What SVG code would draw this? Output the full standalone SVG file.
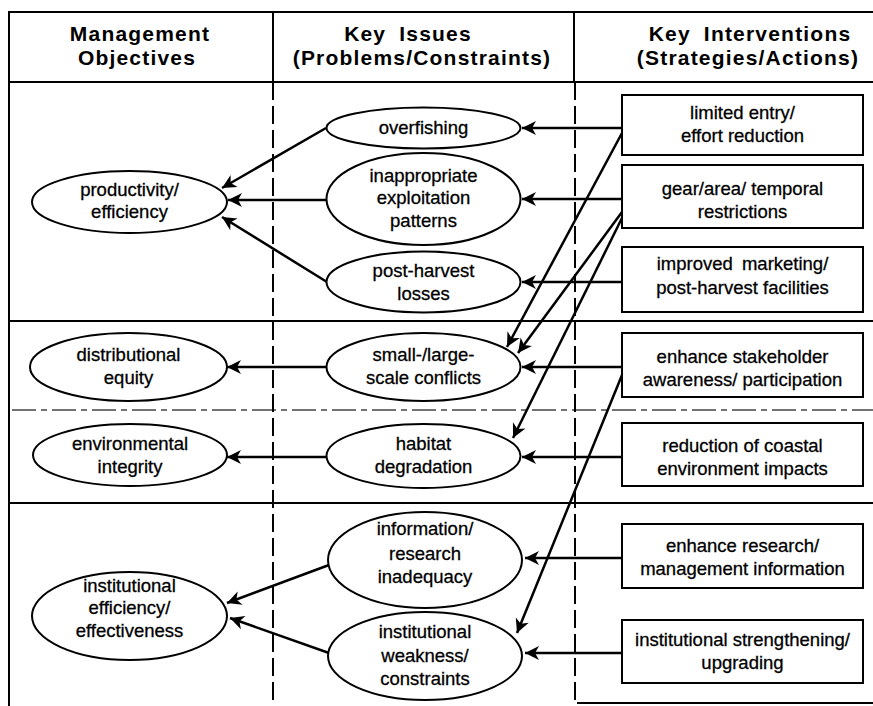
<svg xmlns="http://www.w3.org/2000/svg" width="873" height="706" viewBox="0 0 873 706">
<style>
.frame{stroke:#000;stroke-width:2;fill:none}
.div{stroke:#000;stroke-width:2;fill:none;stroke-dasharray:18 6}
.dd{stroke:#444;stroke-width:1.3;fill:none;stroke-dasharray:24 5 6 5}
.hd{font-family:"Liberation Sans",Arial,sans-serif;font-weight:bold;font-size:21px;letter-spacing:1.2px;text-anchor:middle;fill:#000}
.t{font-family:"Liberation Sans",Arial,sans-serif;font-size:18.5px;text-anchor:middle;fill:#000;stroke:#000;stroke-width:0.3}
.node ellipse,.node rect{fill:#fff;stroke:#000;stroke-width:2}
.arr{stroke:#000;stroke-width:2.5;fill:none;marker-end:url(#ah)}
</style>
<defs>
<marker id="ah" markerUnits="userSpaceOnUse" markerWidth="16" markerHeight="14" refX="14" refY="7" orient="auto" overflow="visible">
<path d="M14,7 L0,0 L4,7 L0,14 Z" fill="#000"/>
</marker>
</defs>
<rect width="873" height="706" fill="#fff"/>
<g id="grid">
<line class="frame" x1="8" y1="12" x2="873" y2="12"/>
<line class="frame" x1="9" y1="11" x2="9" y2="706"/>
<line class="frame" x1="8" y1="82" x2="873" y2="82"/>
<line class="frame" x1="8" y1="321" x2="873" y2="321"/>
<line class="frame" x1="8" y1="503" x2="873" y2="503"/>
<line class="frame" x1="577" y1="703" x2="873" y2="703"/>
<line class="dd" x1="12" y1="410" x2="873" y2="410"/>
<line class="frame" x1="273" y1="12" x2="273" y2="82"/>
<line class="frame" x1="574" y1="12" x2="574" y2="82"/>
<line class="div" x1="273" y1="82" x2="273" y2="706"/>
<line class="div" x1="575" y1="82" x2="575" y2="706"/>
</g>
<g id="headers">
<text class="hd" x="140" y="41">Management</text>
<text class="hd" x="137" y="65">Objectives</text>
<text class="hd" x="408" y="41" word-spacing="6">Key Issues</text>
<text class="hd" x="422" y="65">(Problems/Constraints)</text>
<text class="hd" x="750" y="41" word-spacing="6">Key Interventions</text>
<text class="hd" x="748" y="65">(Strategies/Actions)</text>
</g>
<g id="connectors">
<line class="arr" x1="326" y1="128" x2="222" y2="188"/>
<line class="arr" x1="326" y1="200" x2="228" y2="200"/>
<line class="arr" x1="327" y1="282" x2="222" y2="217"/>
<line class="arr" x1="622" y1="128" x2="522" y2="128"/>
<line class="arr" x1="622" y1="199" x2="522" y2="199"/>
<line class="arr" x1="622" y1="282" x2="522" y2="282"/>
<line class="arr" x1="622" y1="133" x2="507" y2="347"/>
<line class="arr" x1="622" y1="212" x2="518" y2="353"/>
<line class="arr" x1="622" y1="218" x2="513" y2="438"/>
<line class="arr" x1="622" y1="367" x2="522" y2="367"/>
<line class="arr" x1="622" y1="375" x2="517" y2="633"/>
<line class="arr" x1="327" y1="367" x2="227" y2="367"/>
<line class="arr" x1="327" y1="457" x2="227" y2="457"/>
<line class="arr" x1="622" y1="457" x2="522" y2="457"/>
<line class="arr" x1="329" y1="565" x2="227" y2="603"/>
<line class="arr" x1="329" y1="653" x2="230" y2="618"/>
<line class="arr" x1="622" y1="558" x2="525" y2="558"/>
<line class="arr" x1="622" y1="653" x2="525" y2="653"/>
</g>
<g id="productivity" class="node"><ellipse cx="129.5" cy="202" rx="97.5" ry="31"/><text class="t" x="129.5" y="196">productivity/</text><text class="t" x="129.5" y="218">efficiency</text></g>
<g id="distributional" class="node"><ellipse cx="128.5" cy="367" rx="98.5" ry="34"/><text class="t" x="128.5" y="361">distributional</text><text class="t" x="128.5" y="384">equity</text></g>
<g id="environmental" class="node"><ellipse cx="130" cy="455" rx="97" ry="31"/><text class="t" x="130" y="450">environmental</text><text class="t" x="130" y="473">integrity</text></g>
<g id="institutional" class="node"><ellipse cx="129.5" cy="616" rx="97.5" ry="44"/><text class="t" x="129.5" y="592">institutional</text><text class="t" x="129.5" y="614">efficiency/</text><text class="t" x="129.5" y="637">effectiveness</text></g>
<g id="overfishing" class="node"><ellipse cx="423.5" cy="128" rx="97" ry="20.5"/><text class="t" x="423.5" y="134">overfishing</text></g>
<g id="inappropriate" class="node"><ellipse cx="423.5" cy="199" rx="97" ry="46"/><text class="t" x="423.5" y="182">inappropriate</text><text class="t" x="423.5" y="204">exploitation</text><text class="t" x="423.5" y="227">patterns</text></g>
<g id="postharvest" class="node"><ellipse cx="423.5" cy="282" rx="97" ry="30.5"/><text class="t" x="423.5" y="277">post-harvest</text><text class="t" x="423.5" y="300">losses</text></g>
<g id="conflicts" class="node"><ellipse cx="423.5" cy="367" rx="97" ry="34"/><text class="t" x="423.5" y="361">small-/large-</text><text class="t" x="423.5" y="384">scale conflicts</text></g>
<g id="habitat" class="node"><ellipse cx="423.5" cy="456" rx="97" ry="32"/><text class="t" x="423.5" y="450">habitat</text><text class="t" x="423.5" y="473">degradation</text></g>
<g id="information" class="node"><ellipse cx="425" cy="560" rx="97" ry="48"/><text class="t" x="425" y="535">information/</text><text class="t" x="425" y="560">research</text><text class="t" x="425" y="583">inadequacy</text></g>
<g id="weakness" class="node"><ellipse cx="425" cy="656" rx="97" ry="44"/><text class="t" x="425" y="638">institutional</text><text class="t" x="425" y="662">weakness/</text><text class="t" x="425" y="685">constraints</text></g>
<g id="limited" class="node"><rect x="622" y="95" width="241" height="60"/><text class="t" x="742.5" y="119">limited entry/</text><text class="t" x="742.5" y="142">effort reduction</text></g>
<g id="gear" class="node"><rect x="622" y="165" width="241" height="63"/><text class="t" x="742.5" y="195">gear/area/ temporal</text><text class="t" x="742.5" y="218">restrictions</text></g>
<g id="marketing" class="node"><rect x="622" y="247" width="241" height="65"/><text class="t" x="742.5" y="270" word-spacing="4">improved marketing/</text><text class="t" x="742.5" y="294">post-harvest facilities</text></g>
<g id="stakeholder" class="node"><rect x="622" y="333" width="241" height="64"/><text class="t" x="742.5" y="363">enhance stakeholder</text><text class="t" x="742.5" y="386">awareness/ participation</text></g>
<g id="coastal" class="node"><rect x="622" y="423" width="241" height="63"/><text class="t" x="742.5" y="452">reduction of coastal</text><text class="t" x="742.5" y="475">environment impacts</text></g>
<g id="research" class="node"><rect x="622" y="524" width="241" height="64"/><text class="t" x="742.5" y="552">enhance research/</text><text class="t" x="742.5" y="575">management information</text></g>
<g id="strengthening" class="node"><rect x="622" y="620" width="241" height="63"/><text class="t" x="742.5" y="646">institutional strengthening/</text><text class="t" x="742.5" y="669">upgrading</text></g>
</svg>
